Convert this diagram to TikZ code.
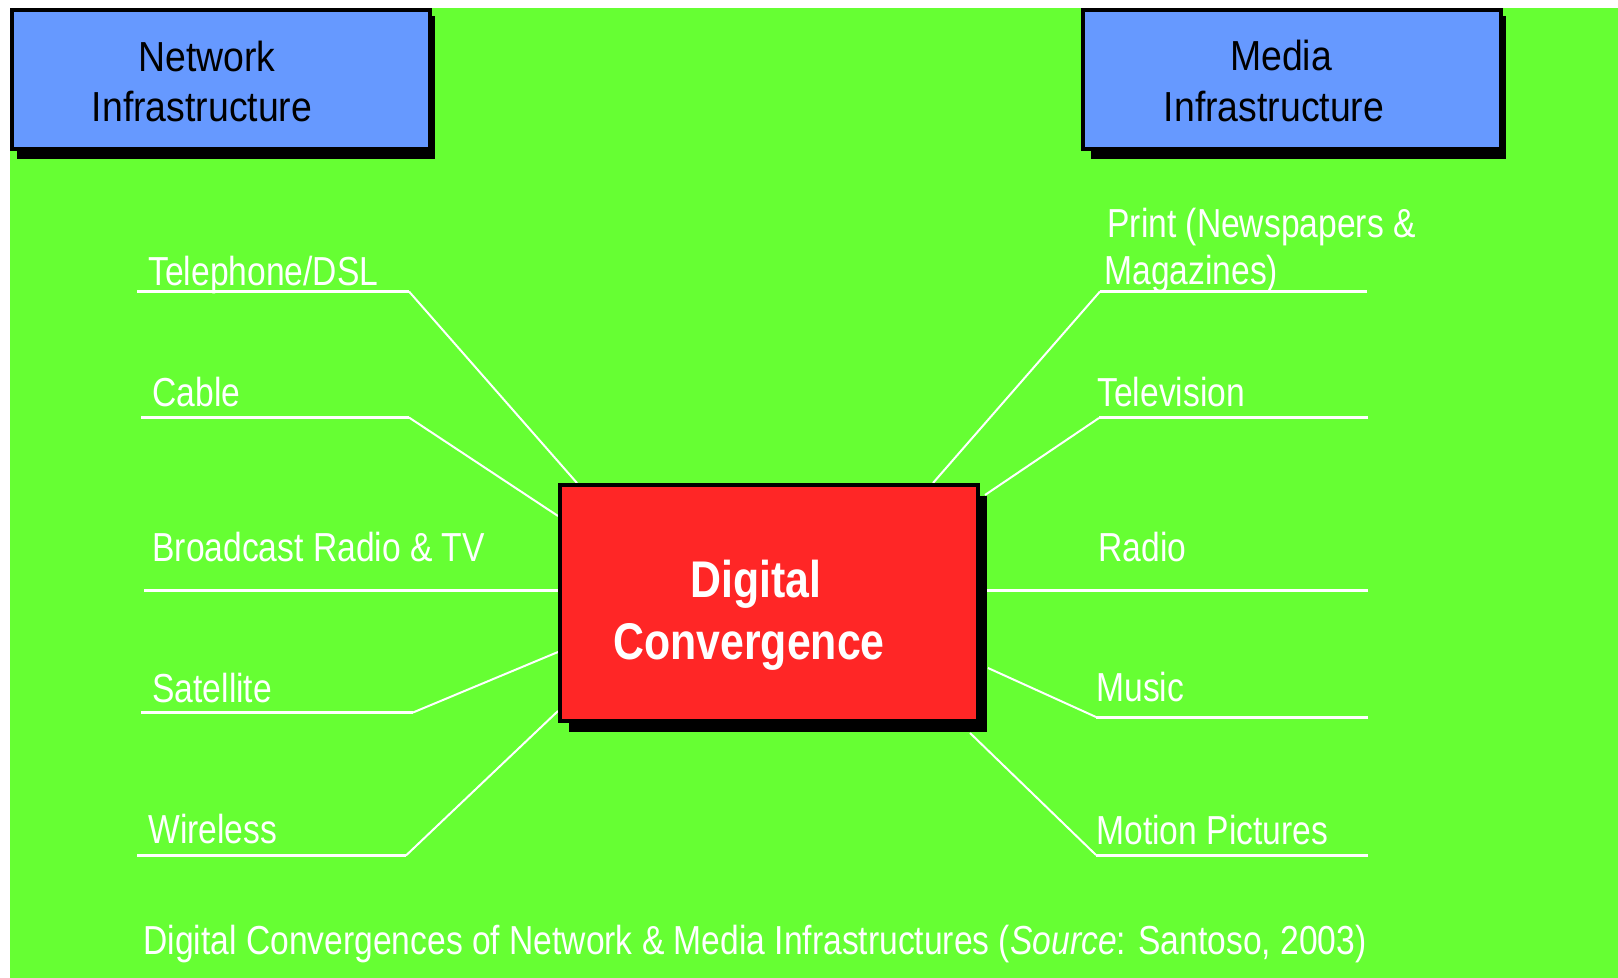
\documentclass[tikz,border=0pt]{standalone}
\usepackage{fontspec}
\setmainfont{Liberation Sans}
\newfontfamily\lblfont[FakeStretch=0.83]{Liberation Sans}
\newfontfamily\hdrfont[FakeStretch=0.89]{Liberation Sans}
\newfontfamily\bigfont[FakeStretch=0.83]{Liberation Sans Bold}
\definecolor{bggreen}{HTML}{66FF33}
\definecolor{hdrblue}{HTML}{6699FF}
\definecolor{boxred}{HTML}{FF2626}
\begin{document}
\begin{tikzpicture}[x=0.5pt,y=-0.5pt,
  lbl/.style={anchor=base west,inner sep=0pt,text=white,font=\lblfont\fontsize{20.25}{24}\selectfont},
  hdr/.style={anchor=base,inner sep=0pt,text=black,font=\hdrfont\fontsize{21}{25}\selectfont},
  big/.style={anchor=base,inner sep=0pt,text=white,font=\bigfont\fontsize{25.8}{31}\selectfont},
  uline/.style={draw=white,line width=1.5pt},
  diag/.style={draw=white,line width=1pt},
  frame/.style={draw=black,line width=2pt},
  shadowbox/.style={fill=black}]
\useasboundingbox (0,0) rectangle (1618,978);
\fill[white] (0,0) rectangle (1618,978);
\fill[bggreen] (10,8) rectangle (1618,978);

% header boxes
\fill[shadowbox] (17,16) rectangle (435,159);
\filldraw[frame,fill=hdrblue] (12,10) rectangle (430,149);
\node[hdr] (netA) at (207,72) {Network};
\node[hdr] (netB) at (202,122) {Infrastructure};

\fill[shadowbox] (1091,16) rectangle (1506,159);
\filldraw[frame,fill=hdrblue] (1083,10) rectangle (1501,149);
\node[hdr] (medA) at (1281,71) {Media};
\node[hdr] (medB) at (1274,122) {Infrastructure};

% connectors (drawn before the box)
\coordinate (telL) at (137,291.5); \coordinate (telK) at (409,291.5); \coordinate (telE) at (577,483);
\coordinate (cabL) at (141,417.5); \coordinate (cabK) at (409,417.5); \coordinate (cabE) at (558,516);
\coordinate (broL) at (144,590.5); \coordinate (broE) at (558,590.5);
\coordinate (satL) at (141,712.5); \coordinate (satK) at (413,712.5); \coordinate (satE) at (558,652);
\coordinate (wirL) at (137,855.5); \coordinate (wirK) at (406,855.5); \coordinate (wirE) at (558,711);

\coordinate (priR) at (1367,291.5); \coordinate (priK) at (1100,291.5); \coordinate (priE) at (933,483);
\coordinate (telvR) at (1368,418); \coordinate (telvK) at (1099,418); \coordinate (telvE) at (985,495);
\coordinate (radR) at (1368,591); \coordinate (radE) at (987,591);
\coordinate (musR) at (1368,717); \coordinate (musK) at (1096,717); \coordinate (musE) at (988,668);
\coordinate (motR) at (1368,855); \coordinate (motK) at (1096,855); \coordinate (motE) at (970,733);

\draw[uline] (telL) -- (telK); \draw[diag] (telK) -- (telE);
\draw[uline] (cabL) -- (cabK); \draw[diag] (cabK) -- (cabE);
\draw[uline] (broL) -- (broE);
\draw[uline] (satL) -- (satK); \draw[diag] (satK) -- (satE);
\draw[uline] (wirL) -- (wirK); \draw[diag] (wirK) -- (wirE);

\draw[uline] (priR) -- (priK); \draw[diag] (priK) -- (priE);
\draw[uline] (telvR) -- (telvK); \draw[diag] (telvK) -- (telvE);
\draw[uline] (radR) -- (radE);
\draw[uline] (musR) -- (musK); \draw[diag] (musK) -- (musE);
\draw[uline] (motR) -- (motK); \draw[diag] (motK) -- (motE);

% central box
\fill[shadowbox] (569,496) rectangle (987,732);
\filldraw[frame,fill=boxred] (560,485) rectangle (978,721);
\node[big] (dcA) at (756,597) {Digital};
\node[big] (dcB) at (749,659) {Convergence};

% left labels
\node[lbl] (tel) at (148,286) {Telephone/DSL};
\node[lbl] (cab) at (152,407) {Cable};
\node[lbl] (bro) at (152,562) {Broadcast Radio \& TV};
\node[lbl] (sat) at (152,702) {Satellite};
\node[lbl] (wir) at (148,843) {Wireless};

% right labels
\node[lbl] (priA) at (1107,238) {Print (Newspapers \&};
\node[lbl] (priB) at (1104,285) {Magazines)};
\node[lbl] (telv) at (1097,407) {Television};
\node[lbl] (rad) at (1098,562) {Radio};
\node[lbl] (mus) at (1096,701) {Music};
\node[lbl] (mot) at (1096,844) {Motion Pictures};

% caption
\node[lbl] (cap) at (143,954) {Digital Convergences of Network \& Media Infrastructures ({\itshape Source}: Santoso, 2003)};
\end{tikzpicture}
\end{document}
